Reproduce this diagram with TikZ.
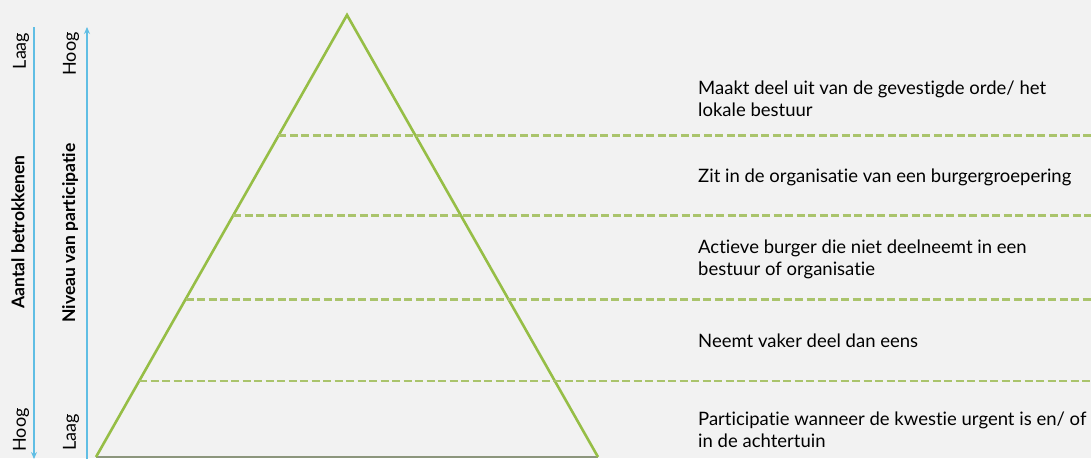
\documentclass[tikz,border=0pt]{standalone}
\usepackage{fontspec}
\setmainfont{Lato}[Ligatures={NoCommon}]
\usepackage{xcolor}
\definecolor{pyrgreen}{RGB}{150,190,70}
\definecolor{dashgreen}{RGB}{170,196,108}
\definecolor{axisblue}{RGB}{96,190,228}
\definecolor{basegray}{RGB}{140,150,125}
\definecolor{bggray}{RGB}{242,242,242}
\usetikzlibrary{arrows.meta,positioning,calc}

\begin{document}
\begin{tikzpicture}[
    x=1pt, y=-1pt,
    level/.style={dashgreen, line width=2.6pt, dash pattern=on 8pt off 3.5pt},
    side/.style={pyrgreen, line width=2.6pt},
    axis/.style={-{Stealth[length=7pt,width=6pt]}, axisblue, line width=2.2pt},
    desc/.style={anchor=west, align=left, font=\fontsize{18.5}{22}\selectfont, inner sep=0pt},
    tag/.style={rotate=90, font=\fontsize{18}{20}\selectfont, inner sep=0pt},
    title/.style={rotate=90, font=\fontsize{17.5}{19}\selectfont\bfseries, inner sep=0pt}
]
% Background
\fill[bggray] (0,0) rectangle (1091,458);
\useasboundingbox (0,0) rectangle (1091,458);

% Pyramid
\coordinate (apex) at (347,15);
\coordinate (bl) at (96,457);
\coordinate (br) at (598,457);
\coordinate (fr) at (1091,0);
\draw[basegray, line width=2pt] (bl) -- (br);
\draw[side, line join=miter] (bl) -- (apex) -- (br);

% Levels
\foreach \t/\n in {0.273/1, 0.4537/2, 0.6433/3, 0.8284/4} {
    \coordinate (l\n) at ($(apex)!\t!(bl)$);
    \draw[level] (l\n) -- (l\n -| fr);
}

% Descriptions
\node[desc] (d1) at (698,99) {Maakt deel uit van de gevestigde orde/ het\\lokale bestuur};
\node[desc] (d2) at (698,177) {Zit in de organisatie van een burgergroepering};
\node[desc] (d3) at (698,259) {Actieve burger die niet deelneemt in een\\bestuur of organisatie};
\node[desc] (d4) at (698,341) {Neemt vaker deel dan eens};
\node[desc] (d5) at (698,430) {Participatie wanneer de kwestie urgent is en/ of\\in de achtertuin};

% Axes
\coordinate (a1top) at (34,27);
\coordinate (a1bot) at (34,459);
\coordinate (a2top) at (87,27);
\coordinate (a2bot) at (87,459);
\draw[axis] (a1top) -- (a1bot);
\draw[axis] (a2bot) -- (a2top);

% Axis labels
\node[tag] (a1low) at (21,51) {Laag};
\node[tag] (a1high) at (21,430) {Hoog};
\node[title] (a1name) at (18,232) {Aantal betrokkenen};
\node[tag] (a2high) at (71,54) {Hoog};
\node[tag] (a2low) at (71,432) {Laag};
\node[title] (a2name) at (70,233) {Niveau van participatie};
\end{tikzpicture}
\end{document}
